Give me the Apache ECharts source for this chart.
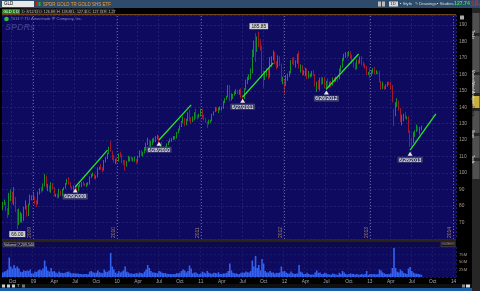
<!DOCTYPE html>
<html><head><meta charset="utf-8">
<script src="https://cdn.jsdelivr.net/npm/echarts@6/dist/echarts.min.js"></script>
<style>html,body{margin:0;padding:0;background:#000;}#c{width:480px;height:291px;}</style>
</head><body><div id="c"></div>
<script>
// Weekly GLD candles [open, close, low, high], week starting Monday
const ohlc2008 = [
[78.5,81.8,77.5,82.5],[81.8,82.3,80.5,84.0],[82.3,78.5,77.0,82.5],[78.5,75.5,72.8,78.8],[75.5,84.5,74.5,88.0],[84.5,86.0,83.0,90.0],[86.0,82.5,81.5,88.5],
[82.5,84.5,80.5,91.5],[84.5,77.5,76.5,85.5],[77.5,71.5,66.0,78.0],[71.5,71.5,68.5,78.5],[71.5,72.0,70.0,76.5],[72.0,73.0,70.0,75.5],[73.0,78.5,71.0,79.5],[78.5,80.0,78.0,83.5],
[80.0,74.5,73.5,80.5],[74.5,81.0,74.0,81.5],[81.0,84.5,80.5,87.0],[84.5,85.5,83.5,86.5],[85.5,85.5,84.0,88.5]];
const ohlc2009 = [
[85.5,82.5,81.0,85.8],[82.5,82.0,79.5,83.5],[82.0,88.5,81.0,88.8],[88.5,90.5,87.0,90.8],
[90.5,89.5,88.0,91.5],[89.5,92.5,89.0,93.8],[92.5,98.5,92.0,99.5],[98.5,92.0,91.0,98.5],
[92.0,92.0,89.0,93.5],[92.0,91.5,88.5,92.5],[91.5,93.0,88.0,94.5],[93.0,90.5,90.0,94.0],[90.5,86.5,86.0,91.5],
[86.5,86.5,85.5,87.5],[86.5,85.5,84.5,87.5],[85.5,89.5,85.0,90.5],[89.5,86.5,86.0,89.5],
[86.5,90.0,86.0,90.5],[90.0,91.0,89.5,91.5],[91.0,93.5,90.5,94.0],[93.5,96.0,93.0,96.5],
[96.0,93.5,93.0,97.5],[93.5,91.5,91.0,94.5],[91.5,90.5,90.0,92.0],[90.5,92.0,89.5,92.5],[92.0,91.0,90.0,92.5],
[91.0,89.5,88.5,91.5],[89.5,92.0,89.0,92.5],[92.0,93.0,91.5,93.5],[93.0,94.0,91.5,94.5],
[94.0,93.0,92.5,95.0],[93.0,92.5,92.0,93.8],[92.5,93.5,91.5,94.0],[93.5,93.5,92.5,94.5],[93.5,97.5,93.0,98.0],
[97.5,98.5,97.0,99.5],[98.5,99.0,98.0,100.5],[99.0,97.0,96.5,99.5],[97.0,98.0,96.5,98.5],
[98.0,103.0,97.5,103.5],[103.0,103.5,102.0,104.0],[103.5,103.0,102.0,105.5],[103.0,102.0,100.5,103.5],
[102.0,107.5,101.5,108.0],[107.5,109.5,106.5,109.8],[109.5,112.0,108.5,112.5],[112.0,115.0,111.5,116.0],[115.0,113.5,113.0,119.5],
[113.5,109.0,108.0,113.5],[109.0,108.0,106.5,111.0],[108.0,108.5,105.5,108.8],[108.5,107.5,106.5,109.5]];
const ohlc2010 = [
[107.5,111.5,107.0,112.0],[111.5,110.5,109.5,113.0],[110.5,107.0,106.0,111.5],[107.0,105.5,105.0,108.0],
[105.5,104.5,101.5,108.0],[104.5,107.0,104.0,107.5],[107.0,109.5,107.0,110.5],[109.5,109.5,107.0,110.0],
[109.5,108.0,107.5,110.0],[108.0,108.0,107.0,109.5],[108.0,108.0,107.0,110.0],[108.0,107.0,105.5,108.5],[107.0,110.0,106.5,110.5],
[110.0,113.5,109.5,113.8],[113.5,111.0,110.5,114.0],[111.0,112.5,110.0,113.0],[112.5,115.5,112.0,115.8],
[115.5,118.0,113.5,118.5],[118.0,120.0,117.0,121.5],[120.0,115.5,115.0,120.5],[115.5,118.5,115.0,119.5],[118.5,119.0,117.0,121.0],
[119.0,119.5,118.5,121.5],[119.5,122.0,119.0,122.5],[122.0,122.0,120.5,123.3],[122.0,117.5,116.5,122.5],
[117.5,117.5,115.5,118.0],[117.5,115.5,115.0,119.0],[115.5,115.5,113.5,116.0],[115.5,115.0,113.0,116.5],
[115.0,117.5,115.0,118.0],[117.5,119.0,117.0,119.5],[119.0,120.0,118.5,121.0],[120.0,120.5,119.0,121.5],[120.5,121.5,120.0,122.5],
[121.5,121.5,120.5,122.5],[121.5,124.5,121.0,125.0],[124.5,126.5,124.0,127.0],[126.5,128.5,126.0,129.0],
[128.5,131.5,128.0,131.8],[131.5,133.0,130.5,134.5],[133.0,130.0,128.5,133.5],[130.0,132.5,129.0,133.0],
[132.5,136.5,131.5,137.0],[136.5,133.0,131.5,138.5],[133.0,132.0,130.0,134.0],[132.0,132.5,131.0,134.5],[132.5,136.5,132.0,137.0],
[136.5,134.5,133.0,139.0],[134.5,134.0,132.5,135.5],[134.0,135.0,133.5,136.0],[135.0,138.5,134.5,139.0]];
const ohlc2011 = [
[138.5,133.5,133.0,139.0],[133.5,132.5,132.0,135.5],[132.5,131.0,130.5,133.5],[131.0,130.5,127.5,131.5],[130.5,131.5,129.5,132.5],
[131.5,132.0,130.5,132.5],[132.0,135.5,131.5,136.0],[135.5,137.0,135.0,137.5],[137.0,139.5,137.0,140.0],
[139.5,138.5,137.5,140.0],[138.5,138.5,136.5,140.0],[138.5,139.0,138.0,140.5],[139.0,139.5,138.0,140.5],
[139.5,143.5,139.0,143.8],[143.5,145.0,142.5,145.5],[145.0,146.5,144.5,147.0],[146.5,152.0,146.0,153.5],
[152.0,145.5,143.5,153.5],[145.5,145.5,144.0,148.5],[145.5,147.5,145.0,148.0],[147.5,149.5,147.0,149.8],[149.5,150.5,148.0,151.0],
[150.5,149.0,148.0,150.5],[149.0,149.5,147.5,150.8],[149.5,146.5,145.5,151.5],[146.5,145.0,142.6,147.5],
[145.0,151.0,145.0,151.5],[151.0,156.5,150.5,156.8],[156.5,157.5,154.0,158.5],[157.5,158.5,156.5,160.0],
[158.5,161.0,157.0,163.5],[161.0,171.0,160.5,175.0],[171.0,180.0,170.5,180.5],[180.0,175.5,167.5,185.0],[175.5,182.0,173.5,183.0],
[182.0,181.0,176.5,185.85],[181.0,176.0,174.5,181.5],[176.0,159.5,157.5,177.5],[159.5,157.5,152.0,162.5],
[157.5,159.0,156.5,162.0],[159.0,162.5,158.5,163.5],[162.5,158.5,157.0,163.5],[158.5,169.5,158.0,170.5],[169.5,170.0,164.5,171.0],
[170.0,173.0,168.5,174.5],[173.0,167.0,166.0,173.5],[167.0,164.5,163.0,168.0],[164.5,170.0,164.0,171.5],
[170.0,166.5,165.0,171.0],[166.5,156.0,155.5,166.5],[156.0,156.0,154.0,158.5],[156.0,154.0,148.3,157.0]];
const ohlc2012 = [
[154.0,157.5,153.0,159.5],[157.5,159.0,156.0,160.5],[159.0,161.5,158.5,162.0],[161.5,168.0,160.5,168.5],[168.0,167.5,166.0,170.0],
[167.5,166.5,165.5,170.5],[166.5,167.0,164.0,168.5],[167.0,172.0,166.5,172.5],[172.0,164.5,163.5,174.1],
[164.5,165.0,161.0,166.0],[165.0,160.5,159.0,165.5],[160.5,161.0,159.5,162.5],[161.0,162.0,159.0,164.0],
[162.0,158.0,157.0,163.5],[158.0,159.0,157.5,162.0],[159.0,159.5,158.0,160.5],[159.5,161.5,158.5,162.0],[161.5,160.0,159.0,162.5],
[160.0,153.5,152.5,160.0],[153.5,155.0,149.3,155.5],[155.0,152.5,151.0,156.5],[152.5,157.5,150.0,158.0],
[157.5,154.5,153.5,158.5],[154.5,157.5,154.0,158.0],[157.5,152.5,151.5,158.5],[152.5,155.5,150.5,156.0],
[155.5,153.5,152.5,157.5],[153.5,154.5,152.0,155.5],[154.5,154.0,152.0,156.0],[154.0,157.5,153.0,158.0],[157.5,156.5,155.0,158.0],
[156.5,157.5,155.5,158.5],[157.5,157.0,155.5,157.5],[157.0,162.5,157.0,163.5],[162.5,164.5,161.5,165.5],
[164.5,169.5,164.0,170.0],[169.5,172.0,168.0,172.5],[172.0,172.5,170.0,173.5],[172.5,172.0,170.0,173.5],
[172.0,173.5,171.0,174.1],[173.5,170.5,169.5,174.0],[170.5,167.0,166.5,172.0],[167.0,166.5,164.0,168.5],[166.5,163.0,162.5,167.0],
[163.0,168.5,163.0,169.0],[168.5,167.0,166.0,168.8],[167.0,170.5,166.5,170.8],[170.5,166.5,165.5,171.0],
[166.5,165.5,164.5,167.5],[165.5,164.5,163.5,166.5],[164.5,160.5,159.5,165.0],[160.5,161.0,159.5,161.5],[161.0,160.5,157.5,163.5]];
const ohlc2013 = [
[160.5,161.5,159.0,162.5],[161.5,163.5,160.5,163.8],[163.5,160.5,160.0,164.5],[160.5,161.5,160.0,162.5],
[161.5,161.0,160.0,161.8],[161.0,155.5,155.0,162.0],[155.5,152.0,150.5,156.0],[152.0,152.5,151.0,155.5],
[152.5,151.5,150.5,153.0],[151.5,153.5,151.0,154.0],[153.5,155.0,152.5,155.5],[155.0,154.5,153.5,155.5],
[154.5,152.5,150.5,155.5],[152.5,143.5,143.0,153.5],[138.0,135.5,128.5,139.0],[135.5,142.5,134.5,143.0],[142.5,142.5,140.0,145.5],
[142.5,138.5,138.0,144.0],[138.5,131.5,131.0,139.5],[131.5,133.5,129.0,135.5],[133.5,134.5,131.5,136.0],
[134.5,133.5,133.0,137.0],[133.5,134.0,132.5,134.5],[134.0,125.5,124.5,134.5],[125.5,119.5,115.9,126.0],
[119.5,118.5,116.0,121.5],[118.5,124.5,118.0,125.0],[124.5,125.5,122.0,126.0],[125.5,128.0,125.0,129.5],[128.0,126.5,125.5,128.5],
[126.5,126.5,123.5,128.0],[126.5,127.74,126.0,128.83]];

// Volume, millions of shares (daily scale)
const vol2008 = [15,18,20,25,65,35,28,40,30,35,28,18,17,22,20,22,20,25,12,12];
const vol2009 = [18,17,22,25,22,28,55,35,22,18,30,18,20,15,12,18,14,14,13,15,17,18,14,12,13,12,12,11,10,10,9,10,10,9,18,20,16,14,14,22,16,14,13,25,18,17,22,80,35,25,15,12];
const vol2010 = [20,15,18,22,35,18,15,12,12,10,12,13,12,15,13,12,18,25,40,30,20,15,15,14,12,20,18,14,13,13,11,10,10,9,10,10,13,12,14,20,25,22,15,20,38,28,12,15,15,11,9,12];
const vol2011 = [18,15,12,20,14,12,11,14,14,12,16,10,10,12,12,14,20,45,22,14,12,12,10,10,14,15,14,18,16,15,20,55,35,70,30,40,22,60,45,20,15,15,20,15,15,12,14,13,15,35,18,20];
const vol2012 = [15,12,11,18,13,10,11,12,40,18,15,10,10,14,10,8,8,8,15,22,14,15,10,10,14,12,9,8,8,12,10,8,7,14,10,20,15,10,8,10,12,10,10,8,10,8,8,10,8,10,20,7,10];
const vol2013 = [10,9,10,8,10,25,22,15,12,10,10,9,12,30,97,30,18,15,25,20,14,12,10,28,33,20,15,12,11,10,9,7.2];

// Seasonal trend annotations [week, price]
const trendLabels = ['6/29/2009','6/28/2010','6/27/2011','6/26/2012','6/28/2013'];
const trendStarts = [['2009-06-29',91.6],['2010-06-28',120.1],['2011-06-27',146.2],['2012-06-25',151.1],['2013-06-24',114.0]];
const trendEnds   = [['2009-11-16',114.0],['2010-11-15',141.4],['2011-11-07',166.9],['2012-11-12',172.3],['2013-10-14',135.9]];
const highPoint = ['2011-09-05',185.85];
const lowPoint = ['2008-10-20',66.00];
const lastPrice = 127.74;
const priceTicks = [70,80,90,100,110,120,130,140,150,160,170,180,190];
const volTicks = [25,50,75];

// weekly category axis: Monday dates from 2008-08-18 through early Jan 2014
const weekStart = '2008-08-18', weekCount = 282;
const weeks = [];
{ let t = Date.parse(weekStart + 'T00:00:00Z');
  for (let i = 0; i < weekCount; i++) { weeks.push(new Date(t).toISOString().slice(0,10)); t += 7*864e5; } }
function weekEnd(s){ return new Date(Date.parse(s+'T00:00:00Z') + 6*864e5); }
function isQuarter(s){ const e = weekEnd(s); return e.getUTCDate() <= 7 && e.getUTCMonth() % 3 === 0; }
function isYear(s){ const e = weekEnd(s); return e.getUTCDate() <= 7 && e.getUTCMonth() === 0; }
const MONTHS = ['Jan','Feb','Mar','Apr','May','Jun','Jul','Aug','Sep','Oct','Nov','Dec'];

const ohlc = [].concat(ohlc2008, ohlc2009, ohlc2010, ohlc2011, ohlc2012, ohlc2013);
const volume = [].concat(vol2008, vol2009, vol2010, vol2011, vol2012, vol2013);

const FONT = 'Liberation Sans';
const yearLines = weeks.filter(isYear).map(w => ({
  xAxis: w,
  lineStyle: {color: '#66669a', type: [1, 2], width: 1},
  label: {show: true, position: 'insideStartTop', formatter: String(weekEnd(w).getUTCFullYear()),
          color: '#a08060', fontSize: 5, fontFamily: FONT, distance: 1}
}));
const trendLines = trendStarts.map((s, i) => [
  {coord: s, lineStyle: {color: '#28e628', width: 1.3, type: 'solid'}, label: {show: false}},
  {coord: trendEnds[i]}
]);
const trendMarks = trendStarts.map((s, i) => ({
  coord: [s[0], s[1] - 2.2], symbol: 'triangle', symbolSize: [5, 4], itemStyle: {color: '#e6e6e6'},
  label: {show: true, position: 'bottom', distance: 1, formatter: trendLabels[i], color: '#ffffff',
          fontSize: 5, fontFamily: FONT, backgroundColor: 'rgba(70,70,110,0.9)', padding: [1, 1.5, 0, 1.5]}
}));

const gridBg = '#0d0a60';
const gridLine = '#221f74';

function txt(x, y, s, fill, size, extra) {
  return Object.assign({type: 'text', x: x, y: y, silent: true,
    style: {text: s, fill: fill, font: (size || 5) + 'px ' + FONT}}, extra || {});
}
function rect(x, y, w, h, fill, stroke) {
  return {type: 'rect', silent: true, shape: {x: x, y: y, width: w, height: h},
    style: {fill: fill, stroke: stroke || null, lineWidth: stroke ? 0.6 : 0}};
}
function vtxt(x, y, s, fill) {
  return {type: 'text', x: x, y: y, silent: true, rotation: -Math.PI/2,
    style: {text: s, fill: fill, font: '3.6px ' + FONT}};
}

const graphic = [
  // top toolbar
  rect(0, 0, 480, 8, '#2f4b6b'),
  rect(2, 1, 32, 6, '#e8e8e8'),
  txt(4, 1.6, 'GLD', '#000', 4.5),
  rect(36, 2, 2, 4, '#d02020'), rect(38.5, 2, 2, 4, '#20b020'),
  txt(43, 1.8, 'SPDR GOLD TR GOLD SHS ETF', '#f0a030', 4.5),
  rect(378, 1.5, 3, 5, '#bbbbbb'), rect(382, 1.5, 3, 5, '#bbbbbb'),
  rect(389, 1.5, 9, 5, '#d8d8d8'), txt(390.5, 2, '1D', '#222', 4),
  txt(400, 2, '▪ Style', '#dddddd', 4.2),
  txt(415, 2, '✎ Drawings', '#dddddd', 4.2),
  txt(437, 2, '▪ Studies', '#dddddd', 4.2),
  {type: 'text', x: 454, y: 1.5, silent: true, style: {text: '127.74', fill: '#22ee33', font: 'bold 5.2px ' + FONT}},
  txt(471, 0.5, '-1.09', '#ff3030', 3.2), txt(471, 4, '-0.85%', '#ff3030', 3.2),
  // quote row
  rect(2, 9, 18, 5, '#1f7f1f'), txt(3.5, 9.6, 'GLD 1 D', '#fff', 4),
  rect(21, 9, 16, 5, '#101010', '#555'), txt(22, 9.6, 'D: 8/12/13', '#ccc', 3.6),
  rect(38, 9, 17, 5, '#101010', '#555'), txt(39, 9.6, 'O: 126.89', '#ccc', 3.6),
  rect(56, 9, 15, 5, '#101010', '#555'), txt(57, 9.6, 'H: 128.83', '#ccc', 3.6),
  rect(72, 9, 14, 5, '#101010', '#555'), txt(73, 9.6, 'L: 127.30', '#ccc', 3.6),
  rect(87, 9, 15, 5, '#101010', '#555'), txt(88, 9.6, 'C: 127.74', '#ccc', 3.6),
  rect(103, 9, 11, 5, '#101010', '#555'), txt(104, 9.6, 'R: 1.27', '#ccc', 3.6),
  // plot top border
  {type: 'line', silent: true, shape: {x1: 2, y1: 14.6, x2: 456, y2: 14.6}, style: {stroke: '#7a4a22', lineWidth: 1}},
  // watermark
  {type: 'circle', silent: true, shape: {cx: 6.5, cy: 19, r: 2.3}, style: {fill: '#30c030'}},
  txt(10.5, 17.2, '2013 © TD Ameritrade IP Company, Inc.', '#8a8ab8', 4),
  {type: 'text', x: 5, y: 23.5, silent: true, style: {text: 'SPDRs', fill: '#3a3a84', font: 'italic bold 9px ' + FONT}},
  // panel separator and volume header
  rect(2, 239, 454, 3, '#2a2212'),
  rect(2, 242, 454, 5, '#0c0a4a'),
  rect(3, 242.5, 13, 4.2, '#151530', '#666'), txt(4, 243, 'Volume', '#ddd', 3.6),
  rect(17, 242.5, 17, 4.2, '#151530', '#666'), txt(18, 243, '7,209,540', '#ddd', 3.6),
  rect(441, 242.5, 14, 4.2, '#151530', '#555'), txt(442, 243, 'realtime', '#c08848', 3.4),
  // sidebar
  rect(472, 8, 8, 283, '#262626'),
  rect(472.5, 13, 7, 20, '#505050'), rect(472.5, 36, 7, 36, '#505050'), rect(472.5, 75, 7, 18, '#505050'),
  rect(472.5, 96, 7, 12, '#c8b040'), rect(472.5, 111, 7, 22, '#505050'), rect(472.5, 136, 7, 22, '#505050'),
  rect(472.5, 161, 7, 18, '#505050'),
  vtxt(474.5, 30, 'Trade', '#eee'),
  vtxt(474.5, 70, 'MarketWatch', '#eee'),
  vtxt(474.5, 91, 'Analyze', '#eee'),
  vtxt(474.5, 106, 'Charts', '#111'),
  vtxt(474.5, 130, 'Scan', '#eee'),
  vtxt(474.5, 155, 'Tools', '#eee'),
  rect(460, 15.5, 4, 4, '#aaaaaa'),
  // bottom bar
  rect(0, 284, 472, 4, '#101010'),
  rect(2, 284.5, 3, 3, '#cccccc'), rect(7, 284.5, 3, 3, '#cccccc'), rect(12, 284.5, 3, 3, '#cccccc'),
  txt(17, 284, 'T', '#cccccc', 4), rect(22, 284.5, 3, 3, '#777777'),
  rect(462, 284.5, 3, 3, '#888888'), rect(466, 284.5, 4, 3, '#dddddd'),
  rect(0, 288, 472, 3, '#1c5ea6')
];

const option = {
  backgroundColor: '#000',
  animation: false,
  textStyle: {fontFamily: FONT},
  grid: [
    {left: 2, top: 15, width: 454, height: 224, show: true, backgroundColor: gridBg, borderWidth: 0},
    {left: 2, top: 247, width: 454, height: 30, show: true, backgroundColor: gridBg, borderWidth: 0}
  ],
  xAxis: [
    {type: 'category', gridIndex: 0, data: weeks, boundaryGap: true,
     axisLine: {show: false}, axisTick: {show: false}, axisLabel: {show: false},
     splitLine: {show: true, interval: (i, v) => isQuarter(v), lineStyle: {color: gridLine, type: [2, 2], width: 1}}},
    {type: 'category', gridIndex: 1, data: weeks, boundaryGap: true,
     axisLine: {show: false}, axisTick: {show: false},
     axisLabel: {show: true, interval: (i, v) => isQuarter(v), margin: 2, color: '#a8a8b8', fontSize: 4.8, fontFamily: FONT,
       formatter: v => { const e = weekEnd(v); const m = e.getUTCMonth();
         return m === 0 ? String(e.getUTCFullYear()).slice(2) : MONTHS[m]; }},
     splitLine: {show: true, interval: (i, v) => isQuarter(v), lineStyle: {color: '#1a1764', type: [2, 2], width: 1}}}
  ],
  yAxis: [
    {type: 'value', gridIndex: 0, position: 'right', min: 60, max: 196, interval: 10,
     axisLine: {show: false}, axisTick: {show: false},
     axisLabel: {margin: 3, color: '#a89888', fontSize: 4.8, fontFamily: FONT,
       formatter: v => priceTicks.indexOf(v) >= 0 ? String(v) : ''},
     splitLine: {show: true, lineStyle: {color: gridLine, type: [2, 2], width: 1}}},
    {type: 'value', gridIndex: 1, position: 'right', min: 0, max: 100, interval: 25,
     axisLine: {show: false}, axisTick: {show: false},
     axisLabel: {margin: 3, color: '#a89888', fontSize: 4.2, fontFamily: FONT,
       formatter: v => volTicks.indexOf(v) >= 0 ? v + 'M' : ''},
     splitLine: {show: true, lineStyle: {color: '#1a1764', type: [2, 2], width: 1}}}
  ],
  series: [
    {type: 'candlestick', xAxisIndex: 0, yAxisIndex: 0, data: ohlc, barWidth: '60%',
     itemStyle: {color: '#14c814', color0: '#dc1c1c', borderColor: '#14c814', borderColor0: '#dc1c1c', borderWidth: 0.7},
     markLine: {symbol: ['none', 'none'], silent: true, animation: false,
       data: [].concat(yearLines, trendLines, [{
         yAxis: lastPrice, lineStyle: {opacity: 0},
         label: {show: true, position: 'end', formatter: lastPrice.toFixed(2), backgroundColor: '#e00000',
                 color: '#fff', fontSize: 4.8, fontFamily: FONT, padding: [1, 1.5, 0, 1.5], distance: 1}
       }])},
     markPoint: {animation: false, silent: true,
       data: [].concat(trendMarks, [
         {coord: highPoint, symbol: 'rect', symbolSize: 1, itemStyle: {color: 'rgba(0,0,0,0)'},
          label: {show: true, position: 'top', distance: 2, formatter: highPoint[1].toFixed(2), color: '#111',
                  backgroundColor: '#cfcfcf', fontSize: 4.8, fontFamily: FONT, padding: [1, 2, 0, 2]}},
         {coord: lowPoint, symbol: 'rect', symbolSize: 1, itemStyle: {color: 'rgba(0,0,0,0)'},
          label: {show: true, position: 'bottom', distance: 1.5, formatter: lowPoint[1].toFixed(2), color: '#111',
                  backgroundColor: '#cfcfcf', fontSize: 4.8, fontFamily: FONT, padding: [1, 2, 0, 2]}}
       ])}},
    {type: 'bar', xAxisIndex: 1, yAxisIndex: 1, data: volume, barCategoryGap: '0%',
     itemStyle: {color: '#3262f2'}}
  ],
  graphic: graphic
};

const chart = echarts.init(document.getElementById('c'), null, {renderer: 'canvas'});
chart.setOption(option);
</script>
</body></html>
